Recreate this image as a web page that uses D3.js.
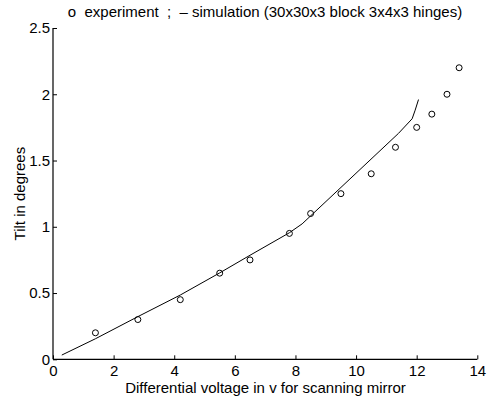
<!DOCTYPE html>
<html><head><meta charset="utf-8">
<script src="https://cdn.jsdelivr.net/npm/d3@7"></script>
<style>
body{margin:0;background:#fff;}
text{font-family:"Liberation Sans",Arial,sans-serif;fill:#000;}
</style></head>
<body>
<svg id="c" width="487" height="402"></svg>
<script>
// Experiment (circles)
const expVoltage = [1.4, 2.8, 4.2, 5.5, 6.5, 7.8, 8.5, 9.5, 10.5, 11.3, 12.0, 12.5, 13.0, 13.4];
const expTilt    = [0.20, 0.30, 0.45, 0.65, 0.75, 0.95, 1.10, 1.25, 1.40, 1.60, 1.75, 1.85, 2.00, 2.20];
// Simulation (line)
const simVoltage = [0.29, 1.4, 2.8, 4.2, 5.5, 6.5, 7.8, 8.22, 11.4, 11.85, 11.95, 12.06];
const simTilt    = [0.032, 0.155, 0.322, 0.485, 0.652, 0.785, 0.955, 1.022, 1.705, 1.815, 1.88, 1.96];
const xTicks = [0, 2, 4, 6, 8, 10, 12, 14];
const yTicks = [0, 0.5, 1, 1.5, 2, 2.5];
const titleText = "o  experiment  ;  \u2013 simulation (30x30x3 block 3x4x3 hinges)";
const xLabel = "Differential voltage in v for scanning mirror";
const yLabel = "Tilt in degrees";

const FS = 15;
const svg = d3.select("#c");
const L = 53, R = 477.3, T = 28, B = 359.3;
const x = d3.scaleLinear().domain([0, 14]).range([L, R]);
const y = d3.scaleLinear().domain([0, 2.5]).range([B, T]);

const xAxis = d3.axisBottom(x).tickValues(xTicks).tickSize(-4).tickPadding(6).tickFormat(d3.format("~g"));
const yAxis = d3.axisLeft(y).tickValues(yTicks).tickSize(-4).tickPadding(3).tickFormat(d3.format("~g"));

const gx = svg.append("g").attr("transform", `translate(0,${B})`).call(xAxis);
const gy = svg.append("g").attr("transform", `translate(${L},0)`).call(yAxis);
[gx, gy].forEach(g => {
  g.select(".domain").attr("stroke", "#000").attr("stroke-width", 1.2);
  g.selectAll(".tick line").attr("stroke", "#000").attr("stroke-width", 1);
  g.selectAll(".tick text").attr("font-size", FS).attr("font-family", "Liberation Sans, Arial, sans-serif").attr("fill", "#000");
});
gx.select(".domain").attr("d", `M${L},0H${R}`);
gy.select(".domain").attr("d", `M0,${B}V${T}`);

const simData = simVoltage.map((v, i) => [v, simTilt[i]]);
svg.append("path").datum(simData)
  .attr("fill", "none").attr("stroke", "#000").attr("stroke-width", 1)
  .attr("d", d3.line().x(d => x(d[0])).y(d => y(d[1])));

svg.append("g").selectAll("circle").data(expVoltage.map((v, i) => [v, expTilt[i]]))
  .join("circle")
  .attr("cx", d => x(d[0])).attr("cy", d => y(d[1])).attr("r", 3)
  .attr("fill", "none").attr("stroke", "#000").attr("stroke-width", 1);

svg.append("text").attr("x", 265).attr("y", 16.5).attr("text-anchor", "middle")
  .attr("font-size", FS).style("white-space", "pre").text(titleText);
svg.append("text").attr("x", 265.5).attr("y", 393).attr("text-anchor", "middle")
  .attr("font-size", FS).text(xLabel);
svg.append("text").attr("transform", `translate(24.5,${(T + B) / 2}) rotate(-90)`)
  .attr("text-anchor", "middle").attr("font-size", FS).text(yLabel);
</script>
</body></html>
